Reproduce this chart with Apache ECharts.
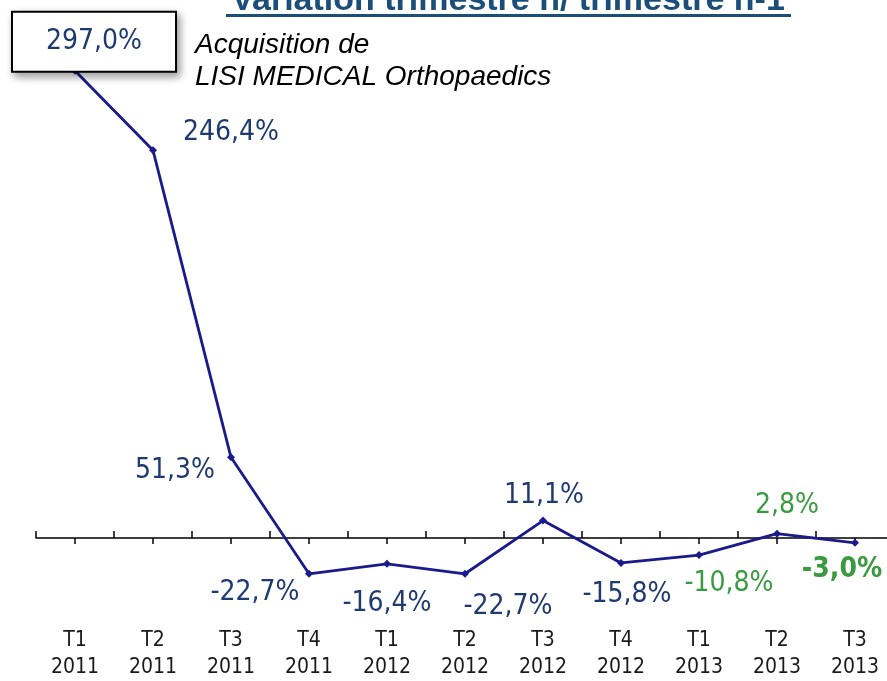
<!DOCTYPE html>
<html><head><meta charset="utf-8">
<script src="https://cdn.jsdelivr.net/npm/echarts@6/dist/echarts.min.js"></script>
<style>html,body{margin:0;padding:0;background:#fff;overflow:hidden}#c{width:900px;height:681px}</style>
</head><body><div id="c"></div>
<script>
// ---- data ----
const quarters = ['T1','T2','T3','T4','T1','T2','T3','T4','T1','T2','T3'];
const years = ['2011','2011','2011','2011','2012','2012','2012','2012','2013','2013','2013'];
const variation = [297.0, 246.4, 51.3, -22.7, -16.4, -22.7, 11.1, -15.8, -10.8, 2.8, -3.0];
const titleText = 'Variation trimestre n/ trimestre n-1';
const noteLines = ['Acquisition de', 'LISI MEDICAL Orthopaedics'];

// ---- layout / style ----
const labelOffsets = [[19,-29],[78,-18],[-56,13],[-54,19],[0,40],[43,33],[1,-25],[6,32],[30,29],[10,-28],[-13,27]];
const labelKinds = ['box','n','n','n','n','n','n','n','g','g','gb'];
const NAVY_TEXT = '#1f3a70';
const LINE = '#1a1a8c';
const GREEN = '#3a9a3f';
const FONT = "'DejaVu Sans Condensed', 'DejaVu Sans', sans-serif";

const categories = quarters.map((q, i) => q + '\n' + years[i]);
const fmt = v => v.toFixed(1).replace('.', ',') + '%';

const seriesData = variation.map((v, i) => {
  const kind = labelKinds[i];
  const label = {
    offset: labelOffsets[i],
    color: kind === 'g' || kind === 'gb' ? GREEN : NAVY_TEXT,
    fontWeight: kind === 'gb' ? 'bold' : 'normal'
  };
  if (kind === 'box') {
    Object.assign(label, {
      backgroundColor: '#ffffff', borderColor: '#000000', borderWidth: 2,
      padding: [19, 33, 11, 33],
      shadowColor: 'rgba(0,0,0,0.35)', shadowBlur: 8, shadowOffsetX: 3, shadowOffsetY: 4
    });
  }
  return { value: v, label };
});

const chart = echarts.init(document.getElementById('c'));
chart.setOption({
  backgroundColor: '#ffffff',
  animation: false,
  grid: { left: 36, top: 66, width: 858, height: 539.2, containLabel: false },
  xAxis: [
    {
      type: 'category', data: categories, position: 'bottom', boundaryGap: true,
      axisLine: { show: true, onZero: true, onZeroAxisIndex: 0, lineStyle: { color: '#000', width: 1.5 } },
      axisTick: { show: true, inside: true, length: 7, lineStyle: { color: '#000', width: 1.5 } },
      axisLabel: { show: false }, splitLine: { show: false }
    },
    {
      type: 'category', data: categories, position: 'bottom', boundaryGap: true,
      axisLine: { show: false, onZero: true, onZeroAxisIndex: 0 },
      axisTick: { show: true, alignWithLabel: true, inside: false, length: 6, lineStyle: { color: '#000', width: 1.5 } },
      axisLabel: { show: false }, splitLine: { show: false }
    },
    {
      type: 'category', data: categories, position: 'bottom', boundaryGap: true,
      axisLine: { show: false, onZero: false },
      axisTick: { show: false },
      axisLabel: { show: true, interval: 0, margin: 26, color: '#1a1a1a', fontFamily: FONT, fontSize: 21, lineHeight: 27 },
      splitLine: { show: false }
    }
  ],
  yAxis: { type: 'value', min: -40, max: 300, show: false, splitLine: { show: false } },
  graphic: [
    { type: 'text', x: 508, y: 1, style: { text: titleText, fill: '#1b4f7a', font: "bold 34px 'Liberation Sans Narrow', 'Liberation Sans', sans-serif", align: 'center', verticalAlign: 'middle' } },
    { type: 'rect', shape: { x: 226, y: 14, width: 565, height: 3 }, style: { fill: '#1b4f7a' } },
    { type: 'text', x: 195, y: 45, style: { text: noteLines[0], fill: '#000', font: "italic 28px 'Liberation Sans', Arial, sans-serif", align: 'left', verticalAlign: 'middle' } },
    { type: 'text', x: 195, y: 77, style: { text: noteLines[1], fill: '#000', font: "italic 28px 'Liberation Sans', Arial, sans-serif", align: 'left', verticalAlign: 'middle' } }
  ],
  series: [{
    type: 'line', xAxisIndex: 0, yAxisIndex: 0,
    data: seriesData,
    symbol: 'diamond', symbolSize: 8,
    itemStyle: { color: LINE },
    lineStyle: { color: LINE, width: 2.8 },
    clip: false,
    label: { show: true, position: 'inside', formatter: p => fmt(p.value), fontFamily: FONT, fontSize: 28 },
    z: 3
  }]
});
</script>
</body></html>
